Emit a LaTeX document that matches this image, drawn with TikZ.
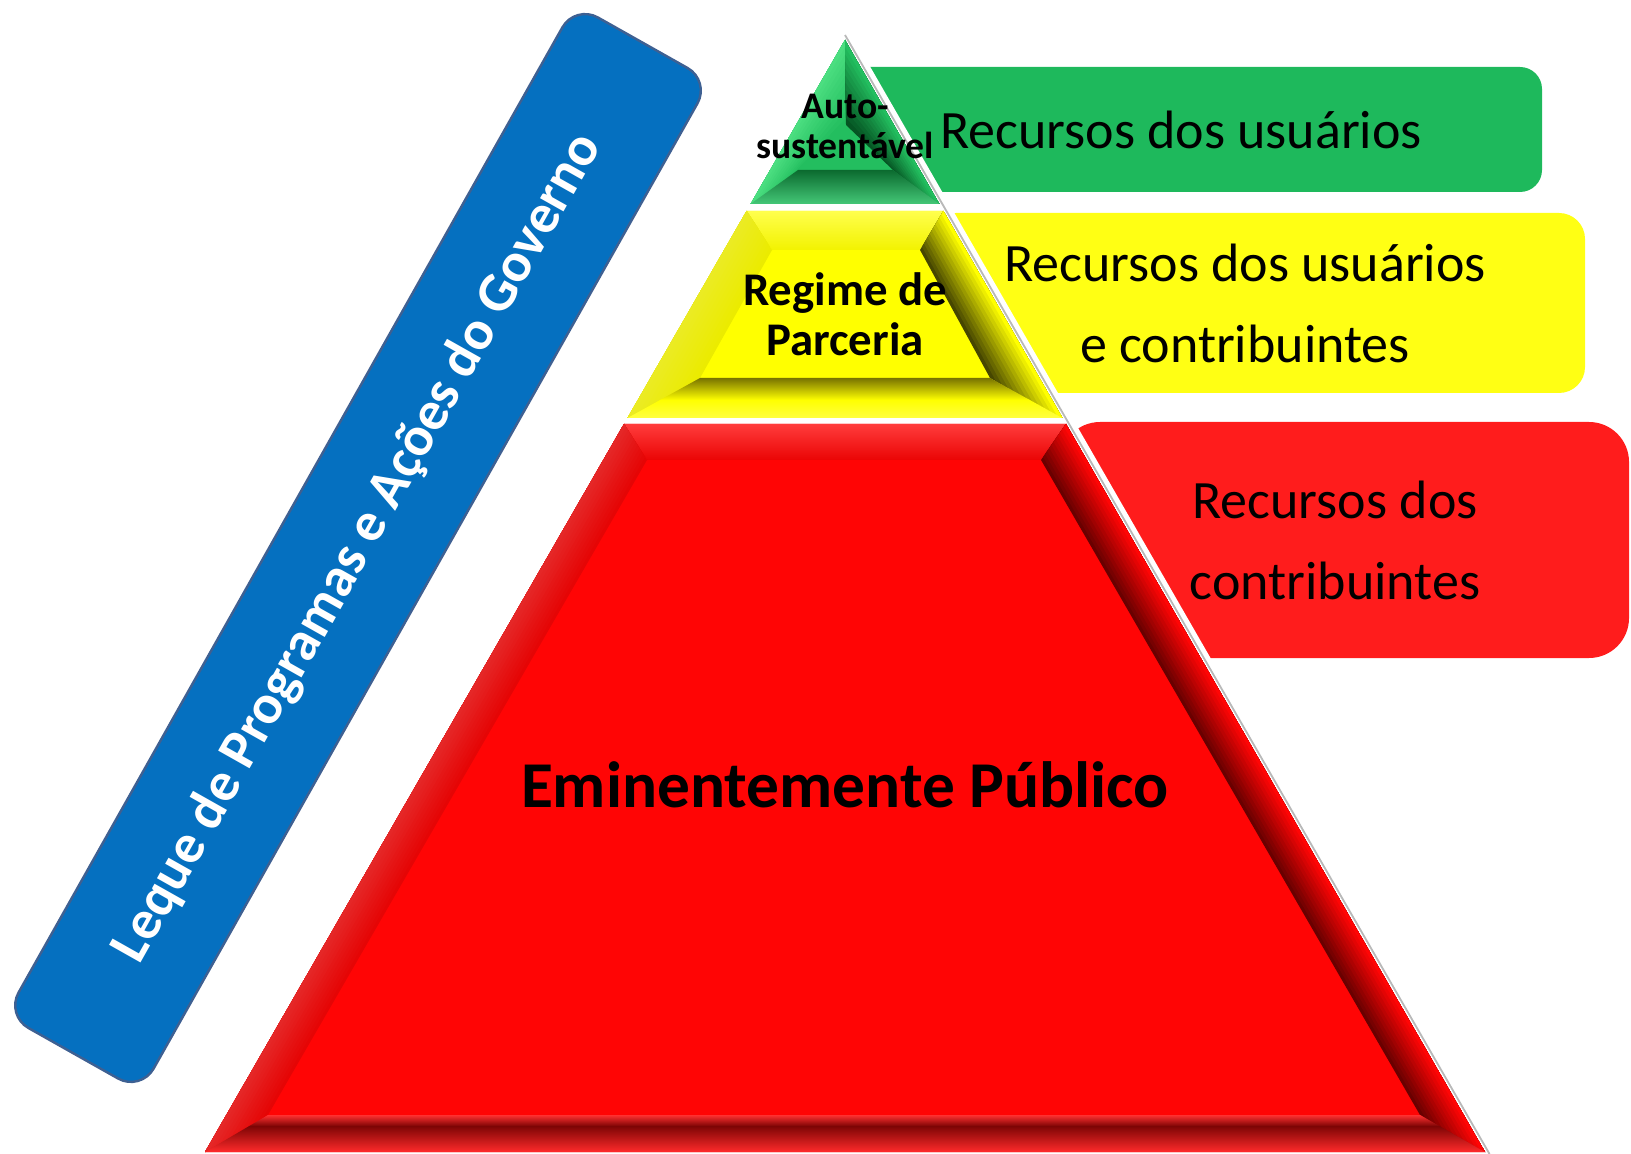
\documentclass[tikz,border=0pt]{standalone}
\usepackage{fontspec}
\setmainfont{Carlito}
\usetikzlibrary{calc}

\definecolor{govblue}{RGB}{5,112,192}
\definecolor{govedge}{RGB}{62,96,146}
\definecolor{boxgreen}{RGB}{30,185,92}
\definecolor{boxyellow}{RGB}{255,255,20}
\definecolor{boxred}{RGB}{255,28,28}
\definecolor{pyrgreen}{RGB}{35,190,95}
\definecolor{greenlight}{RGB}{75,222,128}
\definecolor{greendark}{RGB}{5,85,35}
\definecolor{pyryellow}{RGB}{255,255,0}
\definecolor{yellowdark}{RGB}{70,70,0}
\definecolor{yellowmid}{RGB}{120,115,0}
\definecolor{pyrred}{RGB}{255,5,5}
\definecolor{redlight}{RGB}{255,60,60}
\definecolor{reddark}{RGB}{105,0,0}
\definecolor{redband}{RGB}{125,5,5}

% slanted bevel: inner top, outer top, inner bottom, outer bottom, inner colour, outer colour
\newcommand{\sidebevel}[6]{%
  \foreach \i in {0,...,11} {
    \pgfmathsetmacro\fa{\i/12}
    \pgfmathsetmacro\mixv{100*\i/11}
    \fill[#6!\mixv!#5] ($(#1)!\fa!(#2)$) -- (#2) -- (#4) -- ($(#3)!\fa!(#4)$) -- cycle;
  }}

\begin{document}
\begin{tikzpicture}[x=0.5pt,y=-0.5pt,
  side text/.style={font=\fontsize{27}{40.5}\selectfont,align=center},
  gov box/.style={fill=govblue,draw=govedge,line width=1.2pt,rounded corners=13pt,
    minimum width=580pt,minimum height=77.5pt,inner sep=0pt,text=white,
    font=\bfseries\fontsize{27.8}{32}\selectfont}]
\useasboundingbox (0,0) rectangle (1631,1154);

% band on the left
\node[gov box,rotate=60.6] (leque) at (358,548) {Leque de Programas e Ações do Governo};

% boxes on the right
\fill[boxgreen,rounded corners=11pt] (840,67) rectangle (1542,192);
\fill[boxyellow,rounded corners=13pt] (930,213) rectangle (1585,393);
\fill[boxred,rounded corners=20pt] (1060,422) rectangle (1629,658);

% white halo and grey rim of the pyramid
\fill[white] (845,23) -- (1496,1154) -- (194,1154) -- cycle;
\draw[gray!55,line width=0.9pt] (845,35) -- (1489.5,1154);

% red tier
\coordinate (rTL) at (624,424);
\coordinate (rTR) at (1066,424);
\coordinate (rBR) at (1485,1152);
\coordinate (rBL) at (205,1152);
\coordinate (riTL) at (647,460);
\coordinate (riTR) at (1041,460);
\coordinate (riBR) at (1420,1115);
\coordinate (riBL) at (268,1115);
\fill[pyrred] (rTL) -- (rTR) -- (rBR) -- (rBL) -- cycle;
\shade[top color=redlight,bottom color=pyrred!92!black] (rTL) -- (rTR) -- (riTR) -- (riTL) -- cycle;
\sidebevel{riTL}{rTL}{riBL}{rBL}{pyrred!90!black}{redlight!70!pyrred}
\sidebevel{riTR}{rTR}{riBR}{rBR}{reddark}{pyrred}
\shade[top color=redlight!80!pyrred,bottom color=redband] (riBL) -- (riBR) -- ($(riBR)!0.3!(rBR)$) -- ($(riBL)!0.3!(rBL)$) -- cycle;
\shade[top color=redband,bottom color=pyrred!85!white] ($(riBL)!0.3!(rBL)$) -- ($(riBR)!0.3!(rBR)$) -- (rBR) -- (rBL) -- cycle;

% yellow tier
\coordinate (yTL) at (746.6,211);
\coordinate (yTR) at (943.4,211);
\coordinate (yBR) at (1062.5,418);
\coordinate (yBL) at (627.5,418);
\coordinate (yiTL) at (772,250);
\coordinate (yiTR) at (920,250);
\coordinate (yiBR) at (990,378);
\coordinate (yiBL) at (700,378);
\fill[pyryellow] (yTL) -- (yTR) -- (yBR) -- (yBL) -- cycle;
\shade[top color=pyryellow!70!white,bottom color=pyryellow!95!black] (yTL) -- (yTR) -- (yiTR) -- (yiTL) -- cycle;
\sidebevel{yiTL}{yTL}{yiBL}{yBL}{pyryellow!92!black}{pyryellow!85!white}
\sidebevel{yiTR}{yTR}{yiBR}{yBR}{yellowdark}{pyryellow}
\shade[top color=yellowmid,bottom color=pyryellow] (yiBL) -- (yiBR) -- ($(yiBR)!0.55!(yBR)$) -- ($(yiBL)!0.55!(yBL)$) -- cycle;
\shade[top color=pyryellow,bottom color=pyryellow!75!white] ($(yiBL)!0.55!(yBL)$) -- ($(yiBR)!0.55!(yBR)$) -- (yBR) -- (yBL) -- cycle;

% green tier
\coordinate (gT) at (845,40);
\coordinate (gBR) at (939.4,204);
\coordinate (gBL) at (750.6,204);
\coordinate (giT) at (846,125);
\coordinate (giBR) at (893,170);
\coordinate (giBL) at (798,170);
\fill[pyrgreen] (gT) -- (gBR) -- (gBL) -- cycle;
\sidebevel{giT}{gT}{giBL}{gBL}{pyrgreen}{greenlight}
\sidebevel{giT}{gT}{giBR}{gBR}{greendark}{pyrgreen}
\shade[top color=greendark!80!pyrgreen,bottom color=pyrgreen!85!white] (giBL) -- (giBR) -- (gBR) -- (gBL) -- cycle;

% labels
\node[side text] (usr) at (1181,130) {Recursos dos usuários};
\node[side text] (usrcon) at (1245,303) {Recursos dos usuários\\e contribuintes};
\node[side text] (con) at (1335,540) {Recursos dos\\contribuintes};
\node[font=\bfseries\fontsize{18.8}{20}\selectfont,align=center] (auto) at (845,126) {Auto-\\sustentável};
\node[font=\bfseries\fontsize{23.4}{25}\selectfont,align=center] (regime) at (845,314) {Regime de\\Parceria};
\node[font=\bfseries\fontsize{32.7}{36}\selectfont] (publico) at (845,785) {Eminentemente Público};
\end{tikzpicture}
\end{document}
